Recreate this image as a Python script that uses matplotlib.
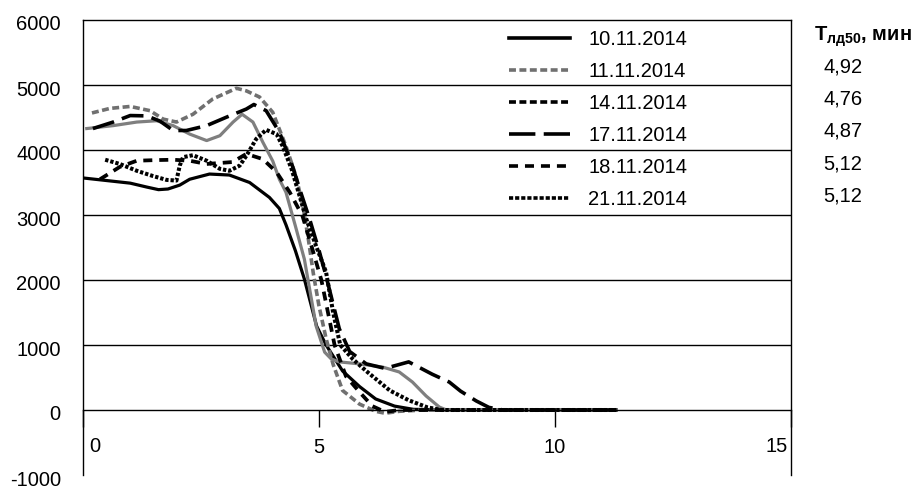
import matplotlib
matplotlib.use('Agg')
import matplotlib.pyplot as plt
from matplotlib.lines import Line2D
from matplotlib import font_manager
from matplotlib.transforms import ScaledTranslation

names = {f.name for f in font_manager.fontManager.ttflist}
if 'Liberation Sans Narrow' in names:
    base_font, fs = 'Liberation Sans Narrow', 16.5
else:
    base_font, fs = 'Liberation Sans', 14.5

plt.rcParams['font.family'] = [base_font, 'Liberation Sans', 'DejaVu Sans']
plt.rcParams['mathtext.fontset'] = 'custom'
plt.rcParams['mathtext.rm'] = base_font
plt.rcParams['mathtext.bf'] = base_font + ':bold'
plt.rcParams['lines.scale_dashes'] = False
plt.rcParams['axes.unicode_minus'] = False

# series: time, min -> value
x_1011 = [0, 0.5, 1.0, 1.35, 1.6, 1.8, 2.05, 2.26, 2.68, 3.1, 3.53, 3.95, 4.16, 4.3, 4.5, 4.69,
          4.95, 5.15, 5.5, 5.86, 6.2, 6.6, 7.0, 8, 9, 10, 11.3]
y_1011 = [3570, 3530, 3490, 3430, 3390, 3400, 3460, 3550, 3630, 3615, 3500, 3270, 3100, 2850, 2450,
          2015, 1290, 1000, 600, 360, 170, 60, 10, 0, 0, 0, 0]

x_1111 = [0.19, 0.57, 1.0, 1.42, 1.7, 1.98, 2.33, 2.75, 3.1, 3.25, 3.46, 3.74, 4.02, 4.3, 4.51,
          4.66, 4.78, 4.88, 5.0, 5.15, 5.3, 5.5, 5.86, 6.2, 6.4, 6.7, 7.2, 8, 9, 10, 11.3]
y_1111 = [4570, 4640, 4670, 4605, 4475, 4430, 4550, 4785, 4900, 4950, 4910, 4815, 4580, 4060, 3600,
          3140, 2600, 2100, 1600, 1100, 700, 300, 90, -20, -50, -20, 0, 0, 0, 0, 0]

x_1411 = [0.08, 0.64, 1.14, 1.56, 1.91, 2.26, 2.62, 2.9, 3.18, 3.37, 3.6, 3.81, 4.02, 4.16, 4.3,
          4.5, 4.69, 4.94, 5.12, 5.26, 5.43, 5.86, 6.35, 6.7, 6.98, 7.27, 7.55, 7.7, 8, 9, 10, 11.3]
y_1411 = [4330, 4375, 4430, 4450, 4375, 4245, 4145, 4220, 4430, 4550, 4430, 4120, 3830, 3550, 3350,
          2830, 2320, 1290, 890, 785, 740, 710, 660, 585, 430, 215, 45, 0, 0, 0, 0, 0]

x_1711 = [0.21, 0.64, 1.0, 1.35, 1.63, 1.91, 2.19, 2.62, 3.04, 3.46, 3.62, 3.88, 4.16, 4.41, 4.59,
          4.8, 5.01, 5.15, 5.43, 5.65, 6.0, 6.4, 6.9, 7.4, 7.76, 8.0, 8.33, 8.6, 8.9, 9.5, 10, 11.3]
y_1711 = [4330, 4430, 4530, 4525, 4445, 4300, 4300, 4375, 4505, 4630, 4700, 4605, 4275, 3815, 3400,
          2940, 2430, 2060, 1250, 900, 710, 640, 740, 550, 430, 290, 140, 40, 0, 0, 0, 0]

x_1811 = [0.36, 0.78, 1.14, 1.56, 1.91, 2.26, 2.62, 3.17, 3.46, 3.81, 4.1, 4.38, 4.65, 4.85, 5.05,
          5.33, 5.57, 5.86, 6.13, 6.4, 6.7, 7.2, 8, 9, 10, 11.3]
y_1811 = [3550, 3740, 3835, 3845, 3850, 3835, 3785, 3815, 3940, 3860, 3660, 3350, 2985, 2500, 2000,
          1000, 520, 275, 60, -30, 0, 0, 0, 0, 0, 0]

x_2111 = [0.47, 0.78, 1.14, 1.48, 1.77, 1.98, 2.05, 2.12, 2.33, 2.62, 2.9, 3.1, 3.32, 3.46, 3.67,
          3.88, 4.1, 4.23, 4.42, 4.59, 4.73, 4.94, 5.15, 5.3, 5.45, 5.72, 6.0, 6.5, 6.9, 7.3, 7.6,
          8, 9, 10, 11.3]
y_2111 = [3850, 3785, 3680, 3600, 3540, 3530, 3760, 3890, 3920, 3835, 3710, 3680, 3760, 3910, 4170,
          4310, 4245, 4060, 3705, 3290, 2940, 2520, 2120, 1500, 1000, 780, 600, 300, 150, 40, 0,
          0, 0, 0, 0]

dates = ['10.11.2014', '11.11.2014', '14.11.2014', '17.11.2014', '18.11.2014', '21.11.2014']
t_ld50 = ['4,92', '4,76', '4,87', '5,12', '5,12']

grey = '#7f7f7f'
grey_dash = '#707070'
short_dash = (0, (5, 2.5))
dash = (0, (6.5, 5))
long_dash = (0, (16, 6))
dots = (0, (2.4, 1.4))

fig = plt.figure(figsize=(9.17, 4.87), dpi=100)
ax = fig.add_axes([83 / 917, 12 / 487, 708 / 917, 455 / 487])

ax.plot(x_1011, y_1011, color='black', lw=2.3, label=dates[0])
ax.plot(x_1111, y_1111, color=grey_dash, lw=2.6, ls=short_dash, label=dates[1])
ax.plot(x_1411, y_1411, color=grey, lw=2.3, label=dates[2])
ax.plot(x_1711, y_1711, color='black', lw=2.6, ls=long_dash, label=dates[3])
ax.plot(x_1811, y_1811, color='black', lw=2.7, ls=dash, label=dates[4])
ax.plot(x_2111, y_2111, color='black', lw=2.9, ls=dots, label=dates[5])

ax.set_xlim(0, 15)
ax.set_ylim(-1000, 6000)
for v in range(1000, 6000, 1000):
    ax.axhline(v, color='black', lw=1, zorder=0)

for s in ['left', 'right', 'top', 'bottom']:
    ax.spines[s].set_linewidth(1)
    ax.spines[s].set_color('black')
ax.spines['bottom'].set_position(('data', 0))

ax.set_xticks([0, 5, 10, 15])
ax.set_xticklabels(['', '5', '10', ''])
ax.tick_params(axis='x', direction='out', length=12, width=1, pad=8, labelsize=fs)
ax.set_yticks(range(-1000, 6001, 1000))
ax.tick_params(axis='y', length=0, pad=16, labelsize=fs)
# Excel puts the value labels just under their gridline
lift = ScaledTranslation(0, 0.045, fig.dpi_scale_trans)
for lbl in ax.get_yticklabels():
    lbl.set_verticalalignment('top')
    lbl.set_transform(lbl.get_transform() + lift)

ax.annotate('0', xy=(0, 0), xycoords='data', xytext=(6, -27), textcoords='offset pixels',
            ha='left', va='top', fontsize=fs)
ax.annotate('15', xy=(15, 0), xycoords='data', xytext=(-3, -27), textcoords='offset pixels',
            ha='right', va='top', fontsize=fs)

handles = [
    Line2D([], [], color='black', lw=2.6),
    Line2D([], [], color=grey_dash, lw=2.6, ls=(0, (5, 2.5))),
    Line2D([], [], color='black', lw=2.6, ls=(0, (5, 2.5))),
    Line2D([], [], color='black', lw=2.6, ls=(0, (19, 6))),
    Line2D([], [], color='black', lw=2.6, ls=(0, (6.5, 5))),
    Line2D([], [], color='black', lw=2.6, ls=(0, (3, 1.4))),
]
ax.legend(handles, dates, loc='upper left', bbox_to_anchor=(509 / 917, 1 - 30 / 487),
          bbox_transform=fig.transFigure, frameon=False, fontsize=fs, handlelength=61 / (fs * 100 / 72),
          handletextpad=18 / (fs * 100 / 72), labelspacing=0.65, borderpad=0, borderaxespad=0)

fig.text(814 / 917, 1 - 37 / 487, r'$\mathbf{T}_{\mathbf{лд50}}$, мин', fontsize=fs,
         fontweight='bold', va='center', ha='left')
for i, t in enumerate(t_ld50):
    fig.text(823 / 917, 1 - (67 + 32.2 * i) / 487, t, fontsize=fs, va='center', ha='left')

fig.savefig('out.png', dpi=100)
